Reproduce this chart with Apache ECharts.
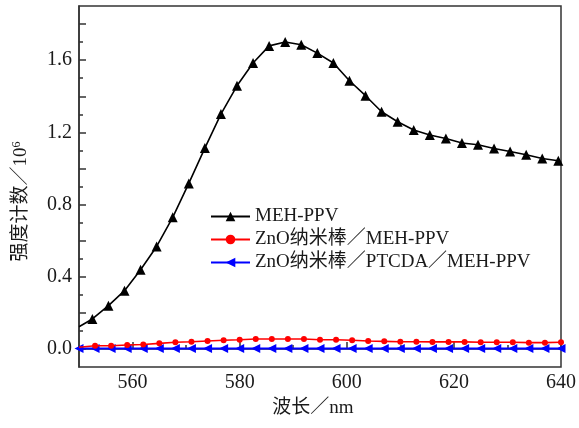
<!DOCTYPE html>
<html><head><meta charset="utf-8">
<script src="https://cdn.jsdelivr.net/npm/echarts@6/dist/echarts.min.js"></script>
<style>html,body{margin:0;padding:0;background:#fff}#c{width:579px;height:428px}</style>
</head><body><div id="c"></div>
<script>
const seriesNames = ['MEH-PPV', 'ZnO纳米棒／MEH-PPV', 'ZnO纳米棒／PTCDA／MEH-PPV'];
// MEH-PPV (first and last entries are the curve ends, drawn without marker)
const mehX = [550, 552.5, 555.5, 558.5, 561.5, 564.5, 567.5, 570.5, 573.5, 576.5, 579.5,
  582.5, 585.5, 588.5, 591.5, 594.5, 597.5, 600.5, 603.5, 606.5, 609.5,
  612.5, 615.5, 618.5, 621.5, 624.5, 627.5, 630.5, 633.5, 636.5, 639.5, 640];
const mehY = [0.123, 0.166, 0.240, 0.323, 0.439, 0.568, 0.729, 0.917, 1.113, 1.301, 1.458,
  1.584, 1.679, 1.701, 1.685, 1.639, 1.584, 1.486, 1.403, 1.314, 1.259,
  1.213, 1.185, 1.166, 1.141, 1.131, 1.111, 1.094, 1.076, 1.055, 1.043, 1.037];
// ZnO nanorod / MEH-PPV (first entry is the curve start, no marker)
const redX = [550, 553, 556, 559, 562, 565, 568, 571, 574, 577, 580, 583, 586, 589, 592, 595,
  598, 601, 604, 607, 610, 613, 616, 619, 622, 625, 628, 631, 634, 637, 640];
const redY = [0.009, 0.018, 0.018, 0.022, 0.025, 0.031, 0.037, 0.040, 0.044, 0.048, 0.051,
  0.055, 0.055, 0.055, 0.055, 0.051, 0.051, 0.048, 0.044, 0.042, 0.040,
  0.040, 0.039, 0.039, 0.039, 0.037, 0.037, 0.037, 0.035, 0.035, 0.037];
// ZnO nanorod / PTCDA / MEH-PPV
const blueX = [550, 553, 556, 559, 562, 565, 568, 571, 574, 577, 580, 583, 586, 589, 592, 595,
  598, 601, 604, 607, 610, 613, 616, 619, 622, 625, 628, 631, 634, 637, 640];
const blueY = [0.002, 0.003, 0.003, 0.003, 0.003, 0.003, 0.003, 0.003, 0.003, 0.003, 0.003,
  0.003, 0.003, 0.003, 0.003, 0.003, 0.003, 0.003, 0.003, 0.003, 0.003,
  0.003, 0.003, 0.003, 0.003, 0.003, 0.003, 0.003, 0.003, 0.003, 0.003];

const xLabels = [560, 580, 600, 620, 640];
const xMinorTicks = [570, 590, 610, 630];
const yLabels = [0, 0.4, 0.8, 1.2, 1.6];
const yMajorTicks = [0, 0.2, 0.4, 0.6, 0.8, 1.0, 1.2, 1.4, 1.6, 1.8];
const yMinorTicks = [0.1, 0.3, 0.5, 0.7, 0.9, 1.1, 1.3, 1.5, 1.7];
const xName = '波长／nm';
const yNameMain = '强度计数／10';
const yNameSup = '6';

const FONT = '"Liberation Serif", "Noto Sans CJK SC", serif';
const AX = '#333';
const TXT = '#1a1a1a';

function pairs(xs, ys, noMarkerIdx) {
  return xs.map((x, i) => {
    const d = { value: [x, ys[i]] };
    if (noMarkerIdx.includes(i)) d.symbol = 'none';
    return d;
  });
}

const chart = echarts.init(document.getElementById('c'), null, { renderer: 'canvas' });
const xBase = {
  type: 'value', min: 550, max: 640, gridIndex: 0, position: 'bottom',
  splitLine: { show: false }
};
const yBase = {
  type: 'value', min: -0.1, max: 1.9, gridIndex: 0, position: 'left',
  splitLine: { show: false }
};
chart.setOption({
  animation: false,
  backgroundColor: '#fff',
  grid: { left: 79, top: 6, right: 16, bottom: 61, show: true, borderColor: AX, borderWidth: 1.5, backgroundColor: 'transparent' },
  legend: {
    data: seriesNames,
    orient: 'vertical', left: 205, top: 202,
    itemWidth: 39, itemHeight: 12, itemGap: 4,
    textStyle: { fontFamily: FONT, fontSize: 19, color: TXT, lineHeight: 19 }
  },
  xAxis: [
    Object.assign({}, xBase, {
      name: xName, nameLocation: 'middle', nameGap: 32,
      nameTextStyle: { fontFamily: FONT, fontSize: 19, color: TXT, padding: [0, 14, 0, 0] },
      axisLine: { show: true, lineStyle: { color: AX, width: 1.5 } },
      axisTick: { show: true, inside: true, length: 7, customValues: xLabels, lineStyle: { color: AX, width: 1.5 } },
      axisLabel: { show: true, customValues: xLabels, margin: 6, fontFamily: FONT, fontSize: 20, color: TXT }
    }),
    Object.assign({}, xBase, {
      axisLine: { show: false },
      axisTick: { show: true, inside: true, length: 4, customValues: xMinorTicks, lineStyle: { color: AX, width: 1.5 } },
      axisLabel: { show: false }
    })
  ],
  yAxis: [
    Object.assign({}, yBase, {
      name: '{a|' + yNameMain + '}{s|' + yNameSup + '}', nameLocation: 'middle', nameGap: 48, nameRotate: 90,
      nameTextStyle: {
        fontFamily: FONT, fontSize: 19, color: TXT, padding: [0, 30, 0, 0],
        rich: {
          a: { fontFamily: FONT, fontSize: 19, color: TXT },
          s: { fontFamily: FONT, fontSize: 12, color: TXT, verticalAlign: 'top', padding: [0, 0, 8, 0] }
        }
      },
      axisLine: { show: true, lineStyle: { color: AX, width: 1.5 } },
      axisTick: { show: true, inside: true, length: 7, customValues: yMajorTicks, lineStyle: { color: AX, width: 1.5 } },
      axisLabel: { show: true, customValues: yLabels, margin: 7, fontFamily: FONT, fontSize: 20, color: TXT,
        formatter: v => v.toFixed(1) }
    }),
    Object.assign({}, yBase, {
      axisLine: { show: false },
      axisTick: { show: true, inside: true, length: 4, customValues: yMinorTicks, lineStyle: { color: AX, width: 1.5 } },
      axisLabel: { show: false }
    })
  ],
  series: [
    {
      name: seriesNames[0], type: 'line', xAxisIndex: 0, yAxisIndex: 0, z: 4,
      data: pairs(mehX, mehY, [0, mehX.length - 1]),
      symbol: 'triangle', symbolSize: 10, showAllSymbol: true,
      lineStyle: { color: '#000', width: 1.6 }, itemStyle: { color: '#000' }
    },
    {
      name: seriesNames[1], type: 'line', xAxisIndex: 0, yAxisIndex: 0, z: 3,
      data: pairs(redX, redY, [0]),
      symbol: 'circle', symbolSize: 6, showAllSymbol: true,
      lineStyle: { color: '#ff0000', width: 1.6 }, itemStyle: { color: '#ff0000' }
    },
    {
      name: seriesNames[2], type: 'line', xAxisIndex: 0, yAxisIndex: 0, z: 2,
      data: pairs(blueX, blueY, []),
      symbol: 'triangle', symbolRotate: 90, symbolSize: 9, showAllSymbol: true,
      lineStyle: { color: '#0000ff', width: 2 }, itemStyle: { color: '#0000ff' }
    }
  ]
});
</script></body></html>
